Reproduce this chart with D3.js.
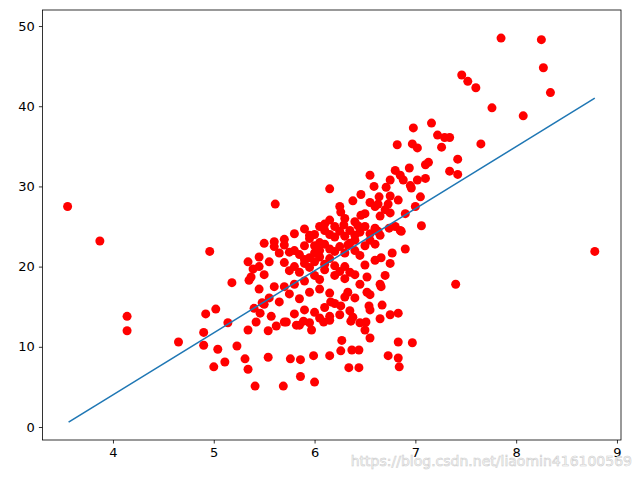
<!DOCTYPE html>
<html>
<head>
<meta charset="utf-8">
<script src="https://cdn.jsdelivr.net/npm/d3@7"></script>
<style>
  body { margin: 0; background: #fff; }
  text { font-family: "DejaVu Sans", sans-serif; }
</style>
</head>
<body>
<div class="canvas"></div>
<script>
// rooms (x) and price (y)
const rm = [3.55,3.87,4.14,4.14,4.65,4.9,4.9,4.92,4.96,5.0,5.04,5.11,5.41,5.69,6.0,5.86,5.61,6.15,8.78,7.4,6.97,
  7.85,8.25,8.27,8.34,8.07,7.46,7.52,7.6,7.76,7.65,6.98,7.16,7.22,7.29,7.34,7.26,7.42,7.34,7.42,6.97,7.02,6.82,
  7.1,7.13,6.94,7.02,6.96,7.06,6.9,6.84,6.83,6.73,6.83,6.65,6.83,6.55,6.44,6.34,6.37,6.44,6.26,6.27,6.15,5.99,
  5.86,5.76,5.54,5.34,5.31,5.23,5.34,5.42,5.14,5.02,5.18,5.34,5.39,5.45,5.37,5.48,5.46,5.54,5.62,5.57,5.72,5.82,
  5.89,5.97,6.09,6.15,6.16,6.26,6.36,6.38,6.51,6.5,6.54,6.67,6.52,6.33,6.3,6.5,6.52,6.66,6.66,6.75,6.77,6.86,6.74,
  6.63,6.65,6.73,6.83,6.75,6.64,6.63,6.8,6.85,6.88,6.75,6.71,6.55,6.59,6.46,6.38,6.46,6.29,6.43,6.4,6.33,6.26,
  5.6,5.6,5.7,5.75,5.8,5.85,5.9,5.95,6.0,6.05,6.1,6.15,6.2,6.25,6.3,6.35,6.4,6.45,6.5,6.55,6.6,5.7,5.75,5.8,5.85,
  5.9,5.95,6.0,6.05,6.1,6.15,6.2,6.25,6.3,6.0,6.05,5.9,5.8,5.7,5.6,5.55,5.65,5.75,5.85,5.95,6.05,6.15,6.2,6.1,6.0,
  5.9,5.8,5.7,6.25,6.15,6.05,5.95,5.85,5.5,5.4,5.45,5.35,5.5,5.55,5.65,6.05,6.1,6.15,6.2,6.25,6.3,6.35,6.4,6.45,
  6.5,6.55,6.6,6.65,6.0,5.95,5.9,6.0,6.1,6.2,6.3,6.35,6.4,6.45,6.55,5.5,5.45,5.7,5.8,5.9,5.95,6.2,6.1,6.05,6.3,
  6.4,6.5,6.6,6.55,6.7,6.75,6.9,7.0,7.05,6.95,7.1,6.85,6.8,6.6,6.7,6.65,6.4,6.35,6.45,6.55,6.75,6.25,6.15];
const price = [27.5,23.2,13.8,12.0,10.6,10.2,11.8,14.1,21.9,7.5,9.7,8.1,5.1,5.1,5.6,6.3,27.8,29.7,21.9,17.8,10.5,
  48.5,48.3,44.8,41.7,38.8,43.9,43.1,42.3,39.8,35.3,37.3,37.9,36.4,36.1,36.1,34.9,33.4,31.9,31.5,35.3,34.8,35.2,
  32.7,33.0,32.3,30.8,29.8,25.1,22.2,7.5,8.6,8.9,10.6,13.5,14.2,11.1,7.4,7.4,9.6,9.6,9.5,10.8,8.9,8.9,
  8.4,8.5,8.7,7.2,8.5,10.1,12.1,13.1,13.0,14.7,18.0,20.6,19.7,20.0,18.7,15.5,14.2,12.0,12.6,13.8,13.1,12.7,
  13.2,12.1,13.1,13.8,15.6,15.1,13.2,13.7,13.1,12.1,15.1,15.2,16.8,16.8,16.2,20.2,18.7,17.5,21.1,20.4,21.7,24.4,24.8,
  24.4,26.3,27.8,28.3,28.8,28.7,27.8,32.0,31.4,30.8,30.8,29.9,31.4,30.0,29.0,28.2,26.4,25.2,25.1,23.3,22.7,26.8,
  23.1,22.5,22.7,21.8,22.0,21.5,22.6,23.5,24.0,23.0,24.5,24.0,23.7,24.4,23.8,24.5,23.9,24.3,25.0,24.1,24.8,20.5,19.5,20.0,19.3,
  20.4,19.9,20.6,21.2,20.3,21.0,20.1,19.4,20.0,18.9,18.4,18.2,17.8,17.5,17.5,16.1,15.6,16.6,16.0,16.8,17.2,16.7,15.4,14.9,14.3,
  14.6,14.1,13.1,14.0,13.3,13.6,13.0,12.7,15.3,14.8,17.2,18.3,19.0,20.6,21.7,22.0,22.8,22.2,21.9,22.5,21.7,22.9,22.0,21.4,
  22.6,23.3,22.8,23.9,21.7,21.1,20.9,22.6,19.6,18.9,18.5,19.3,19.0,17.8,16.5,22.9,21.2,23.4,24.1,24.7,23.9,25.0,25.3,25.0,26.0,
  25.6,26.6,27.5,28.0,27.1,26.7,26.6,27.5,28.7,30.1,31.0,24.5,25.0,20.8,18.9,17.8,16.1,14.5,13.0,14.6,14.0,27.5,25.8];
// fitted line end points
const fitX = [3.56, 8.78];
const fitY = [0.6, 41.0];
const xTicks = [4, 5, 6, 7, 8, 9];
const yTicks = [0, 10, 20, 30, 40, 50];

const width = 640, height = 480;
const margin = {top: 10, right: 19, bottom: 40, left: 42.4};

const svg = d3.select('.canvas').append('svg')
  .attr('width', width).attr('height', height);

const x = d3.scaleLinear().domain([3.3, 9.04]).range([margin.left, width - margin.right]);
const y = d3.scaleLinear().domain([-1.62, 52.0]).range([height - margin.bottom, margin.top]);

svg.append('g')
  .selectAll('circle')
  .data(rm)
  .enter().append('circle')
  .attr('cx', d => x(d))
  .attr('cy', (d, i) => y(price[i]))
  .attr('r', 4.5)
  .attr('fill', '#ff0000');

svg.append('path')
  .datum(fitX.map((d, i) => [d, fitY[i]]))
  .attr('d', d3.line().x(d => x(d[0])).y(d => y(d[1])))
  .attr('stroke', '#1f77b4').attr('stroke-width', 1.5).attr('fill', 'none');

const xAxis = svg.append('g')
  .attr('transform', `translate(0, ${height - margin.bottom})`)
  .call(d3.axisBottom(x).tickValues(xTicks).tickSize(3.5).tickPadding(4).tickFormat(d3.format('d')));
const yAxis = svg.append('g')
  .attr('transform', `translate(${margin.left}, 0)`)
  .call(d3.axisLeft(y).tickValues(yTicks).tickSize(3.5).tickPadding(4).tickFormat(d3.format('d')));
[xAxis, yAxis].forEach(g => {
  g.select('.domain').remove();
  g.selectAll('text').attr('font-size', 13).attr('fill', '#000').attr('font-family', 'DejaVu Sans');
  g.selectAll('line').attr('stroke', '#000').attr('stroke-width', 0.8);
});

// frame
svg.append('rect')
  .attr('x', margin.left).attr('y', margin.top)
  .attr('width', width - margin.left - margin.right)
  .attr('height', height - margin.top - margin.bottom)
  .attr('fill', 'none').attr('stroke', '#000').attr('stroke-width', 0.8);

// watermark
svg.append('text')
  .attr('x', 632).attr('y', 466)
  .attr('text-anchor', 'end')
  .attr('font-size', 14)
  .attr('fill', '#ffffff').attr('stroke', '#c8c8c8').attr('stroke-width', 0.6).attr('opacity', 0.9)
  .text('https://blog.csdn.net/liaomin416100569');
</script>
</body>
</html>
